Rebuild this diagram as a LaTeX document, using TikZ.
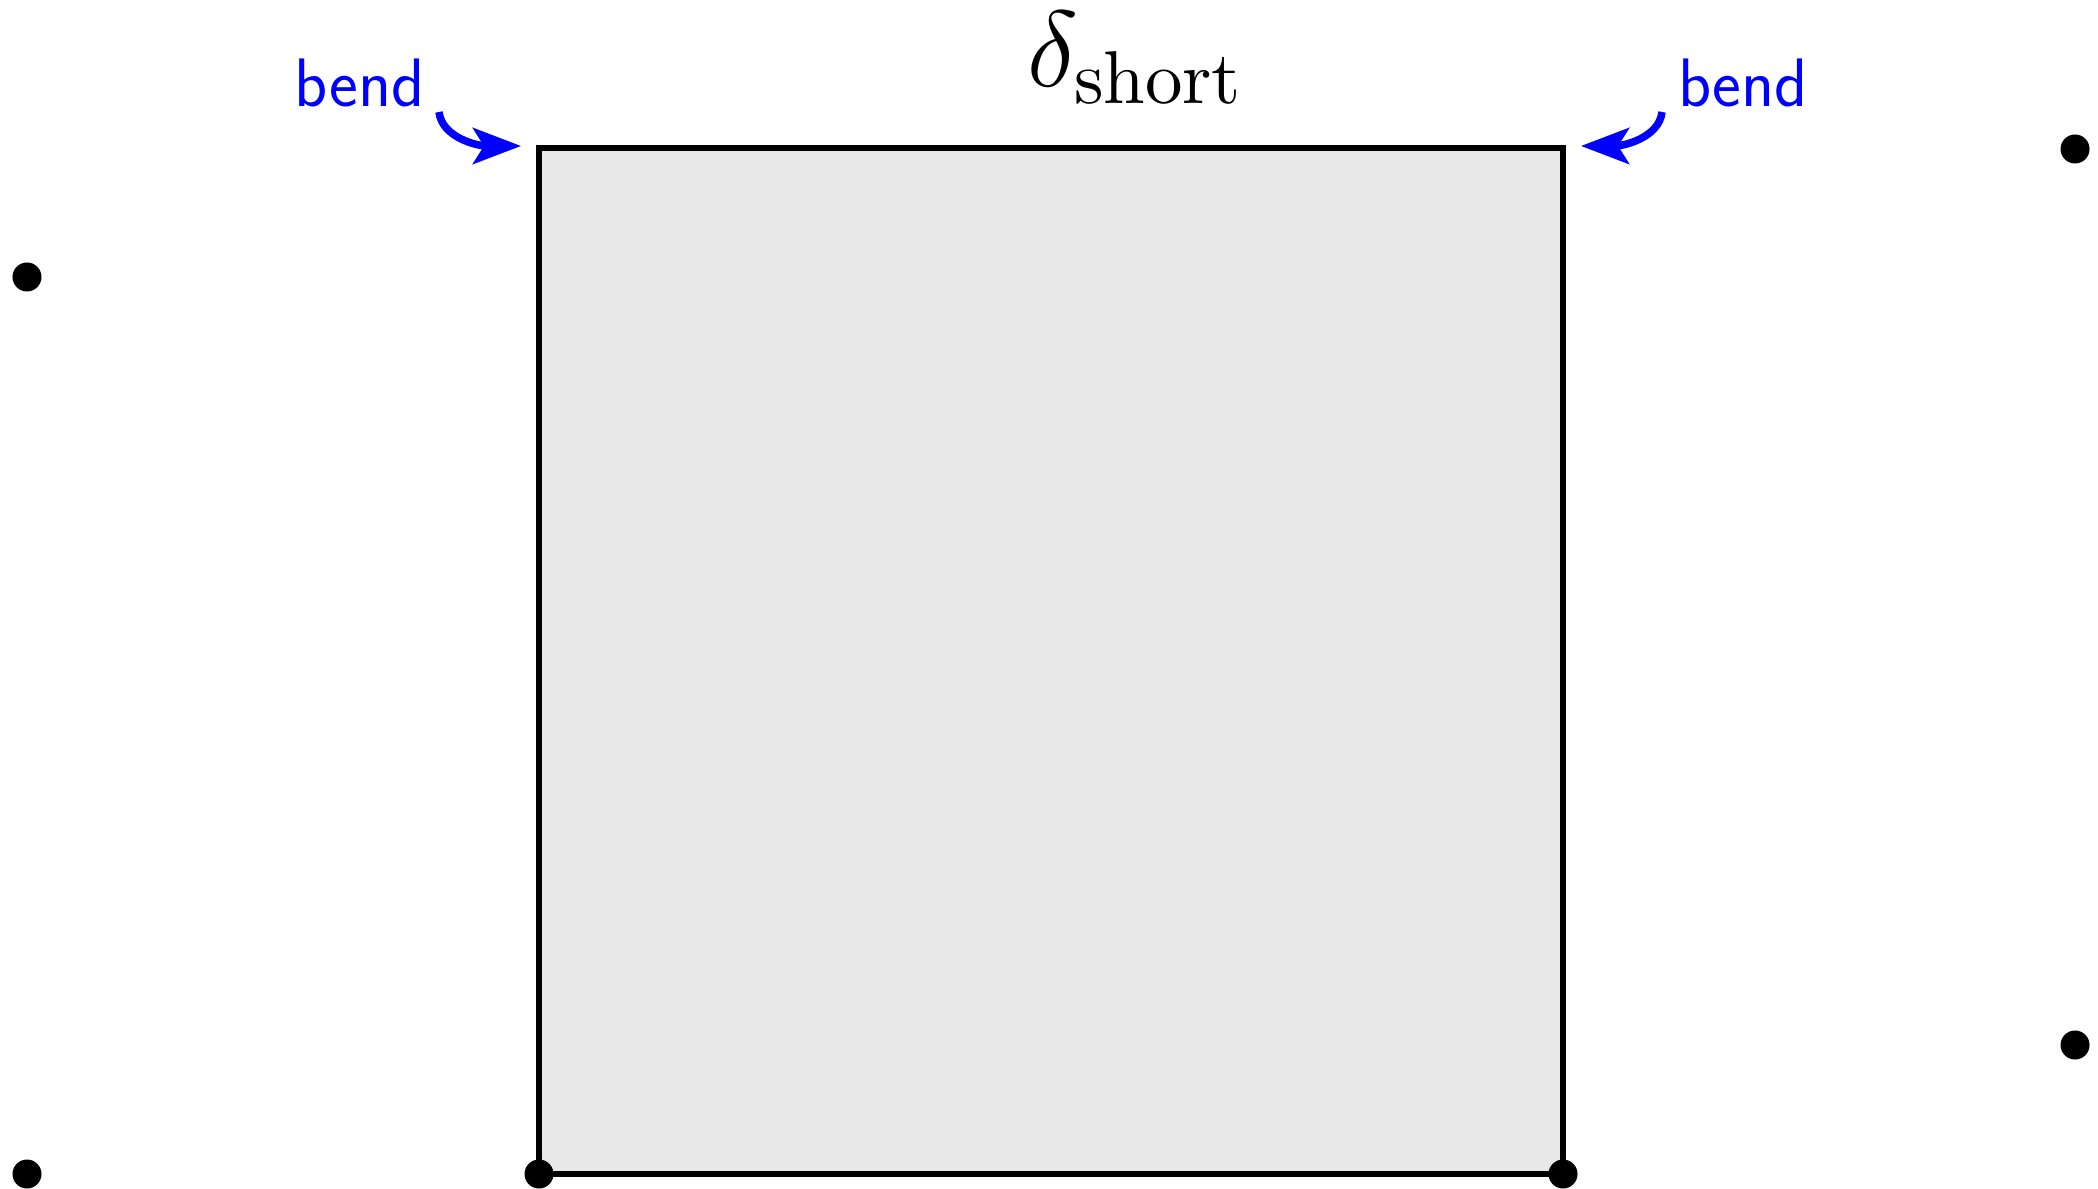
\RequirePackage{fix-cm}
\documentclass[tikz,border=0pt]{standalone}
\usetikzlibrary{arrows.meta}
\definecolor{sqfill}{RGB}{232,232,232}
\begin{document}
\begin{tikzpicture}[x=0.01cm,y=-0.01cm,
  dotnode/.style={circle,fill=black,inner sep=0pt,minimum size=0.29cm},
  edgeline/.style={line width=0.062cm,line join=miter},
  bendlbl/.style={text=blue,font=\sffamily\fontsize{19.5}{22}\selectfont,inner sep=0pt,anchor=base},
  bendarrow/.style={blue,line width=0.075cm,-{Stealth[length=0.48cm,width=0.36cm,inset=0.11cm]}}]
\useasboundingbox (0,0) rectangle (2098,1189);
\coordinate (tl) at (539,148);
\coordinate (tr) at (1563,148);
\coordinate (br) at (1563,1174);
\coordinate (bl) at (539,1174);
\fill[sqfill] (tl) rectangle (br);
\draw[edgeline] (tl) -- (tr) -- (br) -- (bl) -- cycle;
\node[dotnode] (d1) at (bl) {};
\node[dotnode] (d2) at (br) {};
\node[dotnode] (d3) at (27,277) {};
\node[dotnode] (d4) at (27,1174) {};
\node[dotnode] (d5) at (2075,149) {};
\node[dotnode] (d6) at (2075,1045) {};
\node[inner sep=0pt,anchor=base,scale=2.13,font=\Large] (delta) at (1136,87) {$\delta_{\mathrm{short}}$};
\node[bendlbl] (bendL) at (360,107) {bend};
\node[bendlbl] (bendR) at (1743,107) {bend};
\coordinate (aLs) at (439,112);
\coordinate (aLe) at (521,146);
\coordinate (aRs) at (1662,112);
\coordinate (aRe) at (1581,146);
\draw[bendarrow] (aLs) .. controls (442,138) and (478,146) .. (aLe);
\draw[bendarrow] (aRs) .. controls (1659,138) and (1623,146) .. (aRe);
\end{tikzpicture}
\end{document}
